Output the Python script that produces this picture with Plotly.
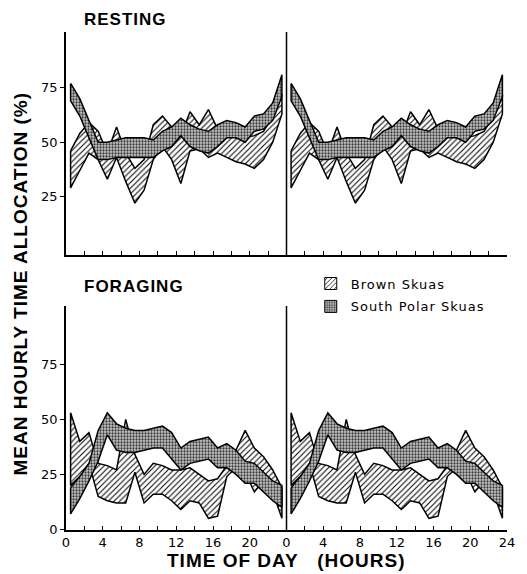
import plotly.graph_objects as go

# hour-of-day positions of the hourly means (mid-hour)
hours = [0.5, 1.5, 2.5, 3.5, 4.5, 5.5, 6.5, 7.5, 8.5, 9.5, 10.5, 11.5,
         12.5, 13.5, 14.5, 15.5, 16.5, 17.5, 18.5, 19.5, 20.5, 21.5, 22.5, 23.5]

# RESTING (% of hour) - band limits
rest_brown_low = [29, 37, 45, 42, 33, 43, 32, 22, 28, 42, 48, 42, 31, 46, 47, 43, 45, 43, 41, 40, 38, 42, 50, 63]
rest_brown_high = [46, 54, 59, 55, 45, 57, 45, 38, 42, 58, 62, 57, 53, 64, 58, 65, 56, 53, 52, 52, 53, 55, 62, 72]
rest_sp_low = [69, 62, 52, 42, 42, 43, 43, 43, 43, 43, 46, 48, 53, 48, 46, 45, 48, 52, 52, 50, 55, 56, 60, 71]
rest_sp_high = [77, 70, 60, 50, 50, 51, 52, 52, 52, 51, 55, 57, 61, 58, 56, 55, 58, 60, 59, 57, 62, 63, 68, 81]

# FORAGING (% of hour) - band limits
forage_brown_low = [20, 24, 30, 15, 13, 12, 12, 26, 12, 16, 16, 13, 9, 13, 12, 5, 6, 24, 28, 26, 17, 22, 17, 5]
forage_brown_high = [53, 40, 44, 30, 29, 27, 50, 34, 25, 30, 29, 27, 27, 28, 25, 22, 23, 29, 36, 45, 37, 33, 27, 19]
forage_sp_low = [7, 14, 22, 31, 43, 36, 35, 35, 36, 37, 37, 32, 27, 30, 31, 32, 28, 28, 25, 21, 21, 17, 13, 10]
forage_sp_high = [19, 24, 30, 45, 53, 48, 46, 45, 45, 46, 47, 44, 37, 40, 41, 42, 37, 39, 36, 31, 30, 26, 22, 20]

tick_vals = [0, 4, 8, 12, 16, 20, 24, 28, 32, 36, 40, 44, 48]
tick_text = ["0", "4", "8", "12", "16", "20", "0", "4", "8", "12", "16", "20", "24"]
series_names = ["Brown Skuas", "South Polar Skuas"]

BROWN_PAT = dict(shape="/", size=4, solidity=0.25, fgcolor="black", bgcolor="white", fillmode="replace")
SP_PAT = dict(shape=".", size=3, solidity=0.45, fgcolor="#3a3a3a", bgcolor="#c8c8c8", fillmode="replace")


def band(low, high):
    xs, ys = [], []
    for day in (0, 24):
        xx = [h + day for h in hours]
        xs += xx + xx[::-1] + [xx[0], None]
        ys += high + low[::-1] + [high[0], None]
    return xs, ys


fig = go.Figure()


def add_band(low, high, pat, xa, ya):
    x, y = band(low, high)
    fig.add_trace(go.Scatter(x=x, y=y, mode="lines", fill="toself",
                             fillpattern=pat, fillcolor="white",
                             line=dict(color="black", width=1.5),
                             xaxis=xa, yaxis=ya, showlegend=False,
                             hoverinfo="skip"))


add_band(rest_brown_low, rest_brown_high, BROWN_PAT, "x", "y")
add_band(rest_sp_low, rest_sp_high, SP_PAT, "x", "y")
add_band(forage_brown_low, forage_brown_high, BROWN_PAT, "x2", "y2")
add_band(forage_sp_low, forage_sp_high, SP_PAT, "x2", "y2")

# legend entries (square swatches)
for name, pat in zip(series_names, [BROWN_PAT, SP_PAT]):
    fig.add_trace(go.Bar(x=[None], y=[None],
                         name='<span style="letter-spacing:1px">' + name + '</span>',
                         xaxis="x2", yaxis="y2",
                         marker=dict(color="white", pattern=pat,
                                     line=dict(color="black", width=1)),
                         legendgroup=name, showlegend=True))

axis_common = dict(range=[0, 48], tickvals=tick_vals, ticks="inside", ticklen=4,
                   tickcolor="black", tickwidth=1.2, showline=True, linecolor="black",
                   linewidth=1.5, showgrid=False, zeroline=False,
                   minor=dict(dtick=2, tick0=0, ticks="inside", ticklen=4,
                              tickcolor="black", tickwidth=1.2, showgrid=False))
yaxis_common = dict(ticks="outside", ticklen=4, tickcolor="black", tickwidth=1.2,
                    showline=True, linecolor="black", linewidth=1.5,
                    showgrid=False, zeroline=False,
                    tickfont=dict(family="DejaVu Sans", size=13, color="black"))

# page body has an 8px margin: figure is 8px smaller and margins compensate
fig.update_layout(
    width=519, height=566,
    margin=dict(l=58, r=15, t=24, b=44),
    paper_bgcolor="white", plot_bgcolor="white",
    font=dict(family="DejaVu Sans", color="black"),
    xaxis=dict(domain=[0, 1], anchor="y", showticklabels=False, **axis_common),
    xaxis2=dict(domain=[0, 1], anchor="y2", ticktext=tick_text,
                tickfont=dict(family="DejaVu Sans", size=13, color="black"),
                **axis_common),
    yaxis=dict(domain=[0.5522, 1], anchor="x", range=[-1.8, 100.6],
               tickvals=[25, 50, 75], **yaxis_common),
    yaxis2=dict(domain=[0, 0.4498], anchor="x2", range=[-0.3, 101.6],
                tickvals=[0, 25, 50, 75], **yaxis_common),
    legend=dict(x=0.555, y=0.525, xanchor="left", yanchor="top",
                bgcolor="rgba(0,0,0,0)", traceorder="grouped", tracegroupgap=3,
                font=dict(family="DejaVu Sans", size=13, color="black"),
                itemwidth=30),
    shapes=[
        dict(type="line", xref="x", yref="y domain", x0=24, x1=24, y0=0, y1=1,
             line=dict(color="black", width=1.5)),
        dict(type="line", xref="x2", yref="y2 domain", x0=24, x1=24, y0=0, y1=1,
             line=dict(color="black", width=1.5)),
    ],
    annotations=[
        dict(text='<b><span style="letter-spacing:1px">RESTING</span></b>',
             xref="paper", yref="paper", x=0.036, y=1.026,
             xanchor="left", yanchor="middle", showarrow=False,
             font=dict(family="Liberation Sans", size=17, color="black")),
        dict(text='<b><span style="letter-spacing:1px">FORAGING</span></b>',
             xref="paper", yref="paper", x=0.036, y=0.488,
             xanchor="left", yanchor="middle", showarrow=False,
             font=dict(family="Liberation Sans", size=17, color="black")),
        dict(text='<b><span style="letter-spacing:1px">MEAN HOURLY TIME ALLOCATION (%)</span></b>',
             xref="paper", yref="paper",
             x=-0.103, y=0.494, xanchor="center", yanchor="middle", textangle=-90,
             showarrow=False, font=dict(family="Liberation Sans", size=19, color="black")),
        dict(text='<b><span style="letter-spacing:1px">TIME OF DAY   (HOURS)</span></b>',
             xref="paper", yref="paper",
             x=0.498, y=-0.062, xanchor="center", yanchor="middle",
             showarrow=False, font=dict(family="Liberation Sans", size=19, color="black")),
    ],
)

fig.write_html("out.html")
